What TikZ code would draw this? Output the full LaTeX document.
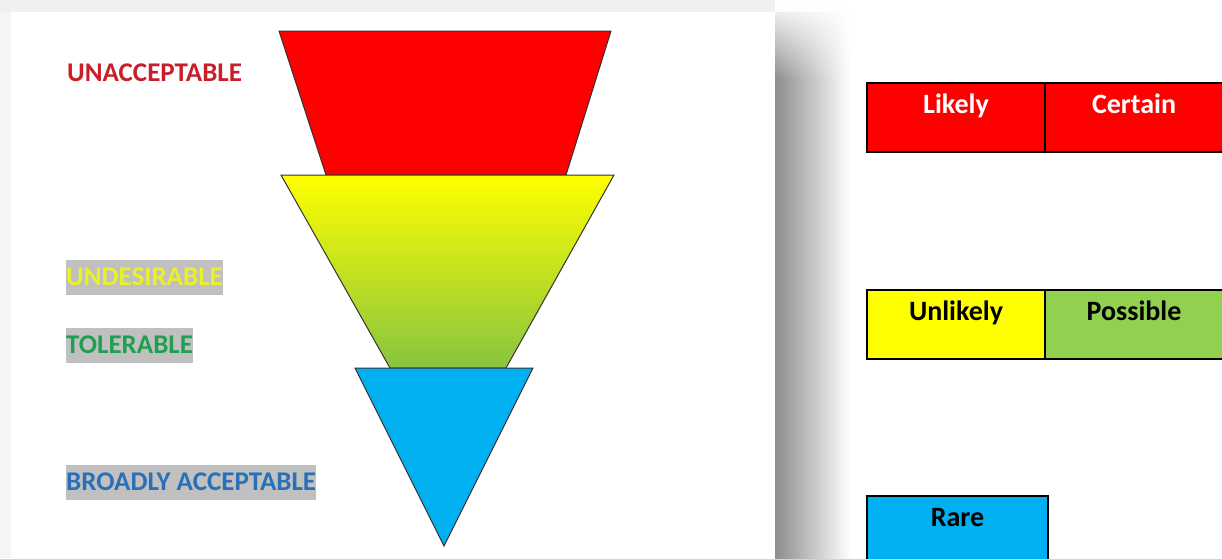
\documentclass[tikz,border=0pt]{standalone}
\usepackage{fontspec}
\setmainfont{Carlito}
\usetikzlibrary{positioning,fadings}
\definecolor{riskred}{RGB}{255,0,0}
\definecolor{riskyellow}{RGB}{255,255,0}
\definecolor{riskgreen}{RGB}{146,208,80}
\definecolor{riskblue}{RGB}{0,176,240}
\definecolor{funnelmid}{RGB}{238,242,30}
\definecolor{funnelgreen}{RGB}{136,196,64}
\definecolor{labelred}{RGB}{200,32,42}
\definecolor{labelyellow}{RGB}{236,240,40}
\definecolor{labelgreen}{RGB}{30,160,80}
\definecolor{labelblue}{RGB}{40,112,184}
\definecolor{hilite}{RGB}{192,192,192}

\begin{document}
\begin{tikzpicture}[x=1pt, y=-1pt,
    funnel/.style={draw=black!80, line width=1pt, line join=miter},
    level/.style={font=\fontsize{27}{31}\selectfont\bfseries, inner sep=0pt, anchor=west},
    marked/.style={level, fill=hilite, minimum height=35pt},
    cellbox/.style={draw, line width=2pt, inner xsep=0pt, inner ysep=0pt,
        text height=30pt, text depth=39pt, minimum width=178pt,
        font=\fontsize{28}{32}\selectfont\bfseries}]
    \useasboundingbox (0,0) rectangle (1222,558);
    \fill[white] (0,0) rectangle (1222,558);

    % page and its shadow
    \fill[black!6] (0,0) rectangle (775,12);
    \shade[left color=black!6, right color=white] (775,0) rectangle (850,12);
    \fill[black!4] (0,12) rectangle (11,558);
    \shade[left color=black!45, right color=white] (775,12) rectangle (850,558);
    \fill[white, path fading=south] (775,0) rectangle (850,80);
    \fill[white] (11,12) rectangle (775,558);

    % funnel
    \draw[funnel, fill=riskred] (279,31) -- (611,31) -- (566,175) -- (326,175) -- cycle;
    \draw[funnel, top color=riskyellow, middle color=funnelmid, bottom color=funnelgreen]
        (281,175) -- (614,175) -- (506,368) -- (390,368) -- cycle;
    \draw[funnel, fill=riskblue] (355,368) -- (533,368) -- (444,546) -- cycle;

    \node[level, text=labelred] (unacc) at (67,73) {UNACCEPTABLE};
    \node[marked, text=labelyellow] (undes) at (66,277) {UNDESIRABLE};
    \node[marked, text=labelgreen] (toler) at (66,345) {TOLERABLE};
    \node[marked, text=labelblue] (broad) at (66,482) {BROADLY ACCEPTABLE};

    % likelihood cells
    \node[cellbox, fill=riskred, text=white, anchor=north west] (likely) at (866,82) {Likely};
    \node[cellbox, fill=riskred, text=white, right=-2pt of likely] (certain) {Certain};
    \node[cellbox, fill=riskyellow, anchor=north west] (unlikely) at (866,289) {Unlikely};
    \node[cellbox, fill=riskgreen, right=-2pt of unlikely] (possible) {Possible};
    \node[cellbox, fill=riskblue, anchor=north west, minimum width=181pt] (rare) at (866,495) {Rare};
\end{tikzpicture}
\end{document}
